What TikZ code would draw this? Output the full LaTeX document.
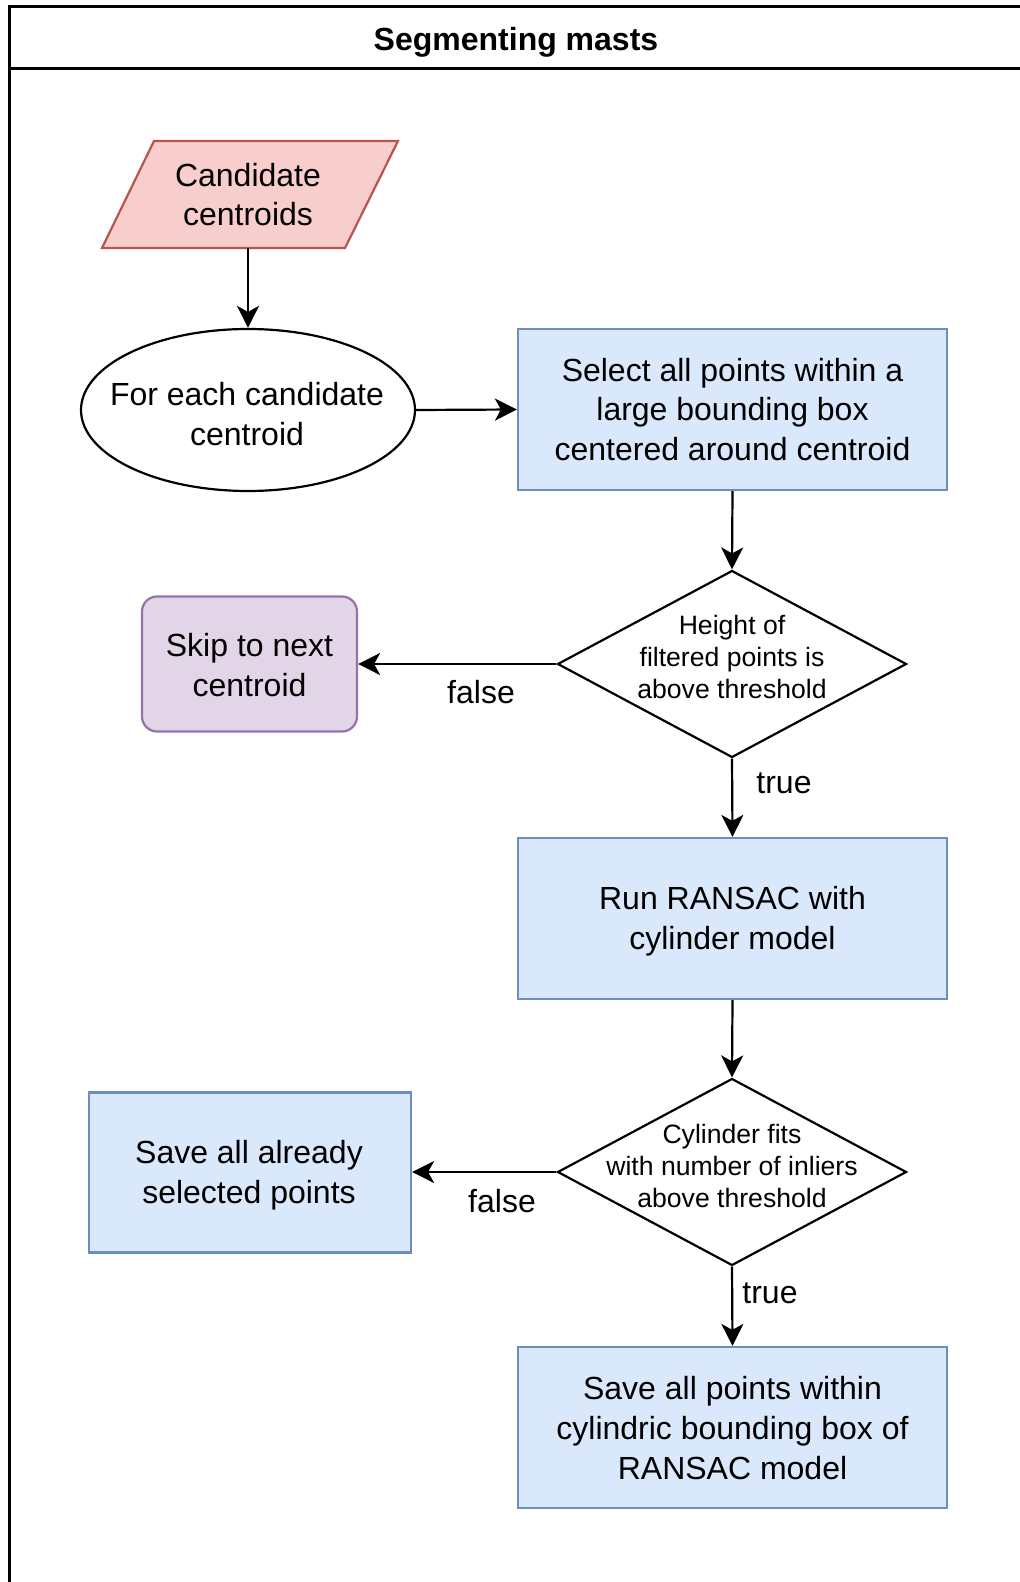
\documentclass[tikz,border=0pt]{standalone}
\usepackage{fontspec}
\setmainfont{Liberation Sans}
\usetikzlibrary{shapes.geometric,arrows.meta}
\definecolor{pinkfill}{HTML}{F8CECC}
\definecolor{pinkline}{HTML}{B85450}
\definecolor{bluefill}{HTML}{DAE8FC}
\definecolor{blueline}{HTML}{6C8EBF}
\definecolor{purplefill}{HTML}{E1D5E7}
\definecolor{purpleline}{HTML}{9673A6}
\tikzset{
  maintext/.style={font=\fontsize{16}{19.8}\selectfont, align=center},
  smalltext/.style={font=\fontsize{13.3}{16.2}\selectfont, align=center},
  process/.style={rectangle, draw=blueline, fill=bluefill, line width=1.1pt,
    minimum width=214.5pt, minimum height=80.5pt, inner sep=0pt},
  decision/.style={diamond, draw=black, line width=1.1pt, fill=white,
    minimum width=174.5pt, minimum height=93.5pt, inner sep=0pt},
  flow/.style={line width=1.1pt, -{Stealth[length=11pt,width=11pt,inset=3pt]}},
  edgelabel/.style={maintext, inner sep=0pt},
  frame/.style={line width=1.5pt, draw=black}
}
\begin{document}
\begin{tikzpicture}[x=0.5pt,y=-0.5pt]
\useasboundingbox (0,0) rectangle (1020,1582);

% swimlane container, open to the right and bottom
\begin{scope}
  \clip (0,0) rectangle (1020,1582);
  \draw[frame] (1040,7) -- (9,7) -- (9,1600);
  \draw[frame] (9,69) -- (1040,69);
\end{scope}
\node[font=\bfseries\fontsize{16}{19.5}\selectfont] (title) at (516,42) {Segmenting masts};

% input parallelogram
\draw[draw=pinkline, fill=pinkfill, line width=1.1pt]
  (154,141) -- (398,141) -- (345,248) -- (102,248) -- cycle;
\node[maintext, minimum width=148pt, minimum height=53.5pt, inner sep=0pt]
  (cand) at (248,194.5) {Candidate\\centroids};

% loop ellipse
\node[ellipse, draw=black, line width=1.1pt, minimum width=167pt, minimum height=81pt,
  inner sep=0pt] (loop) at (248,410) {};
\node[maintext] (looptext) at (247,414) {For each candidate\\centroid};

% processing steps
\node[process] (select) at (732.5,409.5) {};
\node[maintext] (selecttext) at (732.5,409.5) {Select all points within a\\large bounding box\\centered around centroid};

\node[decision] (height) at (732,664) {};
\node[smalltext] (heighttext) at (732,657) {Height of\\filtered points is\\above threshold};

\node[rectangle, rounded corners=7.5pt, draw=purpleline, fill=purplefill, line width=1.1pt,
  minimum width=107.5pt, minimum height=67.5pt, inner sep=0pt]
  (skip) at (249.5,664) {};
\node[maintext] (skiptext) at (249.5,665) {Skip to next\\centroid};

\node[process] (ransac) at (732.5,918.5) {};
\node[maintext] (ransactext) at (732.5,921) {Run RANSAC with\\cylinder model};

\node[decision] (fits) at (732,1172) {};
\node[smalltext] (fitstext) at (732,1166) {Cylinder fits\\with number of inliers\\above threshold};

\node[process, minimum width=161pt, minimum height=80pt] (savesel) at (250,1172.5) {};
\node[maintext] (saveseltext) at (249,1175) {Save all already\\selected points};

\node[process] (savecyl) at (732.5,1427.5) {};
\node[maintext] (savecyltext) at (732.5,1428) {Save all points within\\cylindric bounding box of\\RANSAC model};

% connectors
\draw[flow] (cand.south) -- (loop.north);
\draw[flow] (loop.east) -- (select.west);
\draw[flow] (select.south) -- (height.north);
\draw[flow] (height.west) -- (height.west -| skip.east);
\draw[flow] (height.south) -- (ransac.north);
\draw[flow] (ransac.south) -- (fits.north);
\draw[flow] (fits.west) -- (fits.west -| savesel.east);
\draw[flow] (fits.south) -- (savecyl.north);

% branch labels
\node[edgelabel] (lfalse1) at (481,692) {false};
\node[edgelabel] (ltrue1) at (784,783) {true};
\node[edgelabel] (lfalse2) at (502,1201) {false};
\node[edgelabel] (ltrue2) at (770,1293) {true};
\end{tikzpicture}
\end{document}
